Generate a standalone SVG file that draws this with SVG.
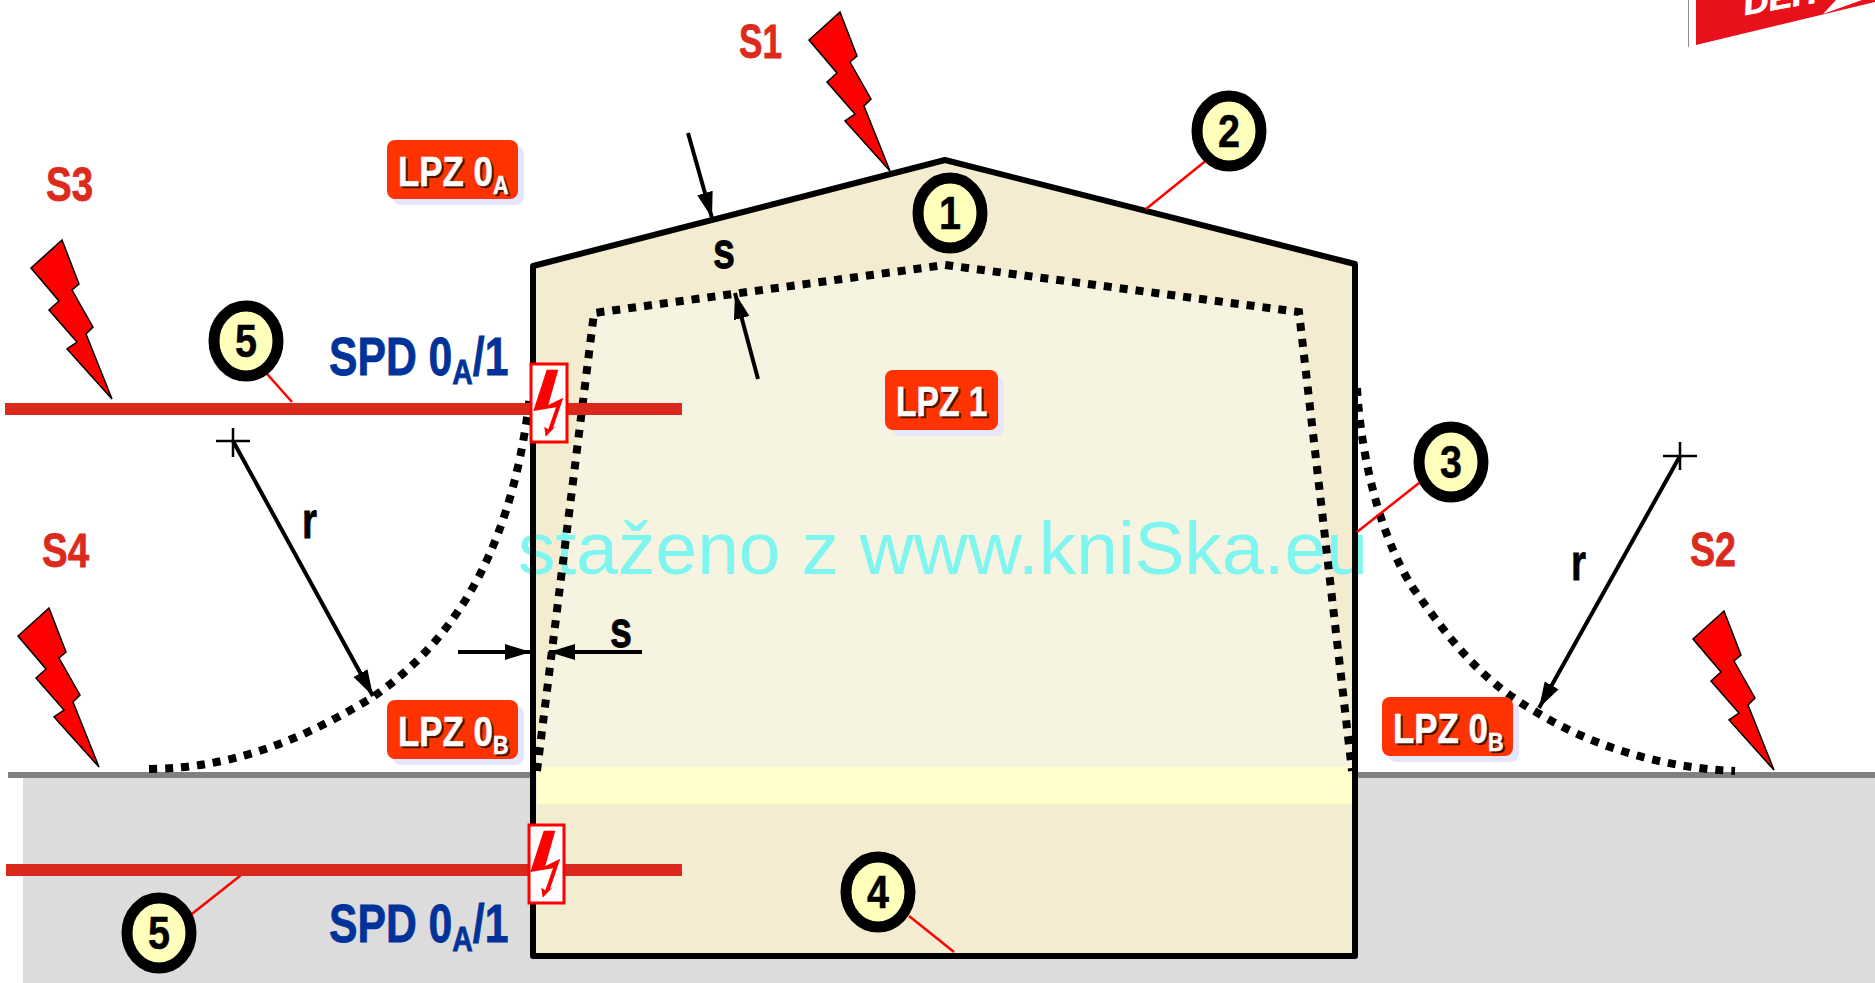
<svg xmlns="http://www.w3.org/2000/svg" width="1875" height="983" viewBox="0 0 1875 983">
<style>
.sans{font-family:"Liberation Sans",Arial,sans-serif;font-weight:700}
.s{fill:#dc2a1c;stroke:#dc2a1c;stroke-width:.8;font-size:48px}
.spd{fill:#003399;stroke:#003399;stroke-width:.8;font-size:54px}
.lpz{fill:#fff;stroke:#fff;stroke-width:.5;font-size:42px}
.lpzsh{fill:#4a1500;stroke:#4a1500;stroke-width:.5;font-size:42px}
.badge{fill:#ff3300}
.badgesh{fill:#e6e6fa}
.num{fill:#000;stroke:#000;stroke-width:.5;font-size:47px;text-anchor:middle}
.ring{fill:#ffffbb;stroke:#000;stroke-width:11}
.lead{stroke:#ff0000;stroke-width:2.500;fill:none}
.dim{stroke:#000;stroke-width:4;fill:none;marker-end:url(#ah)}
.thin{stroke:#000;stroke-width:2.500;fill:none}
.dot{stroke:#000;stroke-width:8;stroke-dasharray:8 8;fill:none}
.mark{fill:#000;stroke:#000;stroke-width:.8;font-size:52px}
.bolt{fill:#ff0000;stroke:#000;stroke-width:1.500;stroke-linejoin:miter}
.spdbox{fill:#fff;stroke:#ff0000;stroke-width:3}
.wire{fill:#da291c}
</style>
<defs>
<marker id="ah" markerUnits="userSpaceOnUse" markerWidth="30" markerHeight="20" refX="26" refY="8" orient="auto"><path d="M0 0L26 8L0 16Z" fill="#000"/></marker>
<path id="bolt" class="bolt" d="M0 0L-31 28L-3 61L-13 70L15 102L5 109L50 159L24 94L31 87L10 50L17 44Z"/>
<path id="spdbolt" fill="#ff0000" d="M16.700 6.700L28.300 6.700L18.300 42L33.300 34.700L23 65L26 63L15.700 73.700L14.300 63.700L18.300 66.300L26 44.300L3.300 48Z"/>
<clipPath id="logoclip"><rect x="1688" y="0" width="187" height="48"/></clipPath>
</defs>
<rect width="1875" height="983" fill="#fff"/>
<g id="ground">
<rect x="23" y="775" width="1852" height="208" fill="#dcdcdc"/>
<rect x="8" y="772" width="1867" height="6" fill="#808080"/>
</g>
<g id="logo" clip-path="url(#logoclip)">
<rect x="1687" y="0" width="2" height="47" fill="#8a8a9a"/>
<path d="M1696 0H1875V2L1696 45Z" fill="#e8101a"/>
<text class="sans" transform="translate(1745,15) rotate(-10)" font-size="30" font-style="italic" fill="#fff" stroke="#fff" stroke-width=".8" textLength="74" lengthAdjust="spacingAndGlyphs">DEH</text>
<path d="M1823 14L1862 0H1836Z" fill="#fff"/>
</g>
<g id="building">
<path d="M533 266L945 160L1355 264V956H533Z" fill="#f3ecd0"/>
<path d="M537 771L594 313L945 265L1299 312L1352 771Z" fill="#f7f3e1"/>
<rect x="537" y="767" width="815" height="37" fill="#ffffcc"/>
</g>
<text id="watermark" x="518" y="574" font-family="Liberation Sans,Arial,sans-serif" font-size="74" fill="#7ff5f0" textLength="850" lengthAdjust="spacingAndGlyphs">staženo z www.kniSka.eu</text>
<g id="building-outline">
<path d="M533 266L945 160L1355 264V956H533Z" fill="none" stroke="#000" stroke-width="6" stroke-linejoin="round"/>
</g>
<g id="connectors">
<path class="dot" d="M537 771L594 313L945 265L1299 312L1352 771"/>
<path class="dot" d="M149 769C240 768 310 735 373 697C440 650 510 570 530 395"/>
<path class="dot" d="M1357 388C1362 470 1385 545 1413 588C1450 640 1480 680 1536 712C1590 745 1660 768 1735 771"/>
<path class="dim" d="M688 133L712 218"/>
<path class="dim" d="M758 379L735 293"/>
<path class="dim" d="M458 652H531"/>
<path class="dim" d="M642 652H549"/>
<path class="dim" d="M233 441L373 696"/>
<path class="dim" d="M1680 456L1539 708"/>
<path class="thin" d="M216 441H250M233 428V457"/>
<path class="thin" d="M1663 456H1697M1680 442V470"/>
<path class="lead" d="M1208 159L1146 209"/>
<path class="lead" d="M1419 483L1357 532"/>
<path class="lead" d="M909 916L954 952"/>
<path class="lead" d="M260 366L292 402"/>
<path class="lead" d="M188 917L245 872"/>
</g>
<g id="wire-top"><rect class="wire" x="5" y="403" width="677" height="12"/></g>
<g id="wire-bottom"><rect class="wire" x="6" y="864" width="676" height="12"/></g>
<g id="spd-top"><rect class="spdbox" x="531" y="364" width="36" height="78"/><use href="#spdbolt" x="530" y="363"/></g>
<g id="spd-bottom"><rect class="spdbox" x="529" y="825" width="35" height="78"/><use href="#spdbolt" x="527" y="824"/></g>
<g id="S1"><use href="#bolt" x="840" y="12"/><text class="sans s" x="739" y="58" textLength="43" lengthAdjust="spacingAndGlyphs">S1</text></g>
<g id="S2"><use href="#bolt" x="1724" y="611"/><text class="sans s" x="1690" y="566" textLength="46" lengthAdjust="spacingAndGlyphs">S2</text></g>
<g id="S3"><use href="#bolt" x="62" y="240"/><text class="sans s" x="46" y="201" textLength="47" lengthAdjust="spacingAndGlyphs">S3</text></g>
<g id="S4"><use href="#bolt" x="49" y="608"/><text class="sans s" x="42" y="567" textLength="47" lengthAdjust="spacingAndGlyphs">S4</text></g>
<g id="n1"><ellipse class="ring" cx="950" cy="213" rx="32" ry="35"/><text class="sans num" x="950" y="229" textLength="22" lengthAdjust="spacingAndGlyphs">1</text></g>
<g id="n2"><ellipse class="ring" cx="1229" cy="131" rx="32" ry="35"/><text class="sans num" x="1229" y="147" textLength="22" lengthAdjust="spacingAndGlyphs">2</text></g>
<g id="n3"><ellipse class="ring" cx="1451" cy="462" rx="32" ry="35"/><text class="sans num" x="1451" y="478" textLength="22" lengthAdjust="spacingAndGlyphs">3</text></g>
<g id="n4"><ellipse class="ring" cx="878" cy="892" rx="32" ry="35"/><text class="sans num" x="878" y="908" textLength="22" lengthAdjust="spacingAndGlyphs">4</text></g>
<g id="n5a"><ellipse class="ring" cx="246" cy="341" rx="32" ry="35"/><text class="sans num" x="246" y="357" textLength="22" lengthAdjust="spacingAndGlyphs">5</text></g>
<g id="n5b"><ellipse class="ring" cx="159" cy="933" rx="32" ry="35"/><text class="sans num" x="159" y="949" textLength="22" lengthAdjust="spacingAndGlyphs">5</text></g>
<g id="lpz0a"><rect class="badgesh" x="393" y="146" width="131" height="59" rx="8"/><rect class="badge" x="387" y="140" width="131" height="59" rx="8"/>
<text class="sans lpzsh" transform="translate(400,188) scale(.83,1)">LPZ 0<tspan dy="8" font-size="26">A</tspan></text><text class="sans lpz" transform="translate(398,186) scale(.83,1)">LPZ 0<tspan dy="8" font-size="26">A</tspan></text></g>
<g id="lpz0b-left"><rect class="badgesh" x="393" y="706" width="131" height="59" rx="8"/><rect class="badge" x="387" y="700" width="131" height="59" rx="8"/>
<text class="sans lpzsh" transform="translate(400,748) scale(.83,1)">LPZ 0<tspan dy="8" font-size="26">B</tspan></text><text class="sans lpz" transform="translate(398,746) scale(.83,1)">LPZ 0<tspan dy="8" font-size="26">B</tspan></text></g>
<g id="lpz0b-right"><rect class="badgesh" x="1388" y="703" width="131" height="59" rx="8"/><rect class="badge" x="1382" y="697" width="131" height="59" rx="8"/>
<text class="sans lpzsh" transform="translate(1395,745) scale(.83,1)">LPZ 0<tspan dy="8" font-size="26">B</tspan></text><text class="sans lpz" transform="translate(1393,743) scale(.83,1)">LPZ 0<tspan dy="8" font-size="26">B</tspan></text></g>
<g id="lpz1"><rect class="badgesh" x="892" y="377" width="112" height="59" rx="8"/><rect class="badge" x="885" y="370" width="113" height="60" rx="8"/>
<text class="sans lpzsh" transform="translate(898,418) scale(.8,1)">LPZ 1</text><text class="sans lpz" transform="translate(896,416) scale(.8,1)">LPZ 1</text></g>
<g id="spd-label-top"><text class="sans spd" transform="translate(329,375) scale(.79,1)">SPD 0<tspan dy="9" font-size="36">A</tspan><tspan dy="-9">/1</tspan></text></g>
<g id="spd-label-bottom"><text class="sans spd" transform="translate(329,942) scale(.79,1)">SPD 0<tspan dy="9" font-size="36">A</tspan><tspan dy="-9">/1</tspan></text></g>
<g id="marks">
<text class="sans mark" x="713" y="268" textLength="22" lengthAdjust="spacingAndGlyphs">s</text>
<text class="sans mark" x="610" y="647" textLength="22" lengthAdjust="spacingAndGlyphs">s</text>
<text class="sans mark" x="302" y="538" textLength="15" lengthAdjust="spacingAndGlyphs">r</text>
<text class="sans mark" x="1571" y="580" textLength="15" lengthAdjust="spacingAndGlyphs">r</text>
</g>
</svg>
